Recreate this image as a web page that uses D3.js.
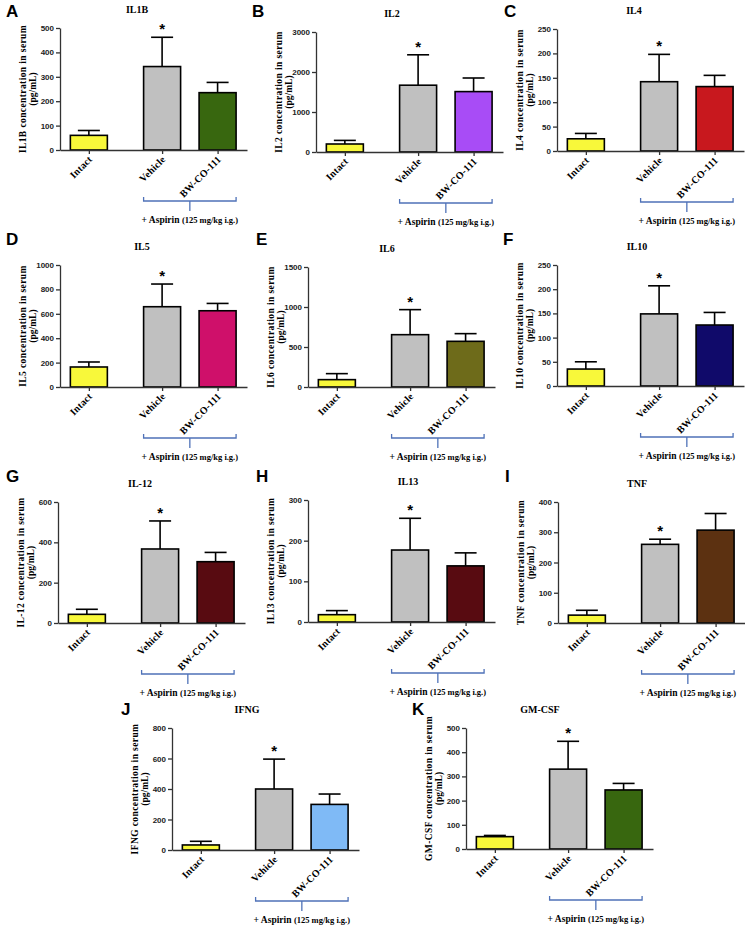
<!DOCTYPE html>
<html>
<head>
<meta charset="utf-8">
<script src="https://cdn.jsdelivr.net/npm/d3@7"></script>
<style>
  body { margin: 0; background: #fff; }
  svg { display: block; }
</style>
</head>
<body>
<svg id="chart"></svg>
<script>
// groups on the x axis of every panel
const groups = ["Intact", "Vehicle", "BW-CO-111"];
const groupPos = [0, 1.32, 2.32];

// one panel per cytokine
const panelLetters = ["A", "B", "C", "D", "E", "F", "G", "H", "I", "J", "K"];
const cytokines = ["IL1B", "IL2", "IL4", "IL5", "IL6", "IL10", "IL-12", "IL13", "TNF", "IFNG", "GM-CSF"];

// mean concentrations (pg/mL): Intact, Vehicle, BW-CO-111
const meanValues = [
    [60, 342, 235],
    [200, 1670, 1510],
    [25, 142, 132],
    [164, 658, 625],
    [92, 654, 571],
    [35, 149, 126],
    [43, 367, 304],
    [18, 177, 138],
    [26, 260, 307],
    [33, 400, 299],
    [51, 330, 244]
];

// upper error (SEM) for each bar
const errorValues = [
    [20, 120, 42],
    [90, 760, 340],
    [11, 56, 23],
    [41, 186, 60],
    [75, 313, 96],
    [15, 58, 26],
    [25, 139, 46],
    [10, 78, 32],
    [16, 17, 55],
    [24, 196, 68],
    [5, 115, 27]
];

// y tick labels per panel
const yTickValues = [
    [0, 100, 200, 300, 400, 500],
    [0, 1000, 2000, 3000],
    [0, 50, 100, 150, 200, 250],
    [0, 200, 400, 600, 800, 1000],
    [0, 500, 1000, 1500],
    [0, 50, 100, 150, 200, 250],
    [0, 200, 400, 600],
    [0, 100, 200, 300],
    [0, 100, 200, 300, 400],
    [0, 200, 400, 600, 800],
    [0, 100, 200, 300, 400, 500]
];

// significance mark over the Vehicle bar
const starGroup = [1, 1, 1, 1, 1, 1, 1, 1, 1, 1, 1];

// fill of the BW-CO-111 bar in each panel
const intactColor = "#f8f83a";
const vehicleColor = "#c0c0c0";
const treatmentColors = ["#38670f", "#a84cf6", "#c8181e", "#cf106a", "#6e6b1a", "#100a6a",
                         "#580b11", "#580b11", "#5c3111", "#7fbaf6", "#38670f"];

const treatmentLabel = "+ Aspirin";
const doseLabel = "(125 mg/kg i.g.)";

// panel placement on the page
const layout = [
    {left: 60,  top: 28,  base: 150, titleDx: 77,  lx: 6,   ly: 17},
    {left: 316, top: 32,  base: 152, titleDx: 76,  lx: 252, ly: 17},
    {left: 557, top: 29,  base: 151, titleDx: 77,  lx: 504, ly: 17},
    {left: 60,  top: 265, base: 387, titleDx: 82,  lx: 6,   ly: 245},
    {left: 308, top: 267, base: 387, titleDx: 79,  lx: 256, ly: 245},
    {left: 557, top: 265, base: 386, titleDx: 80,  lx: 503, ly: 245},
    {left: 58,  top: 502, base: 623, titleDx: 82,  lx: 6,   ly: 482},
    {left: 308, top: 500, base: 622, titleDx: 100, lx: 256, ly: 482},
    {left: 558, top: 502, base: 623, titleDx: 79,  lx: 505, ly: 482},
    {left: 172, top: 728, base: 850, titleDx: 75,  lx: 121, ly: 715},
    {left: 466, top: 728, base: 849, titleDx: 74,  lx: 412, ly: 715}
];

const width = 745, height = 930;
const plotWidth = 187;
const barWidth = 37;
const capHalf = 11;
const axisColor = "#333";
const braceColor = "#4f72b8";
const serif = "'Liberation Serif', 'Times New Roman', serif";
const sans = "'Liberation Sans', Arial, sans-serif";

const svg = d3.select("#chart")
    .attr("width", width)
    .attr("height", height);

svg.append("rect")
    .attr("width", width)
    .attr("height", height)
    .attr("fill", "#fff");

cytokines.forEach((name, i) => {
    const L = layout[i];
    const ticks = yTickValues[i];

    const x = d3.scaleLinear()
        .domain([-0.52, 2.85])
        .range([L.left, L.left + plotWidth]);

    const y = d3.scaleLinear()
        .domain([0, ticks[ticks.length - 1]])
        .range([L.base, L.top]);

    const g = svg.append("g").attr("class", "panel");

    // panel letter and title
    g.append("text")
        .attr("x", L.lx)
        .attr("y", L.ly)
        .attr("font-family", sans)
        .attr("font-weight", "bold")
        .attr("font-size", 17)
        .text(panelLetters[i]);

    g.append("text")
        .attr("x", L.left + L.titleDx)
        .attr("y", L.top - 15)
        .attr("text-anchor", "middle")
        .attr("font-family", serif)
        .attr("font-weight", "bold")
        .attr("font-size", 10)
        .text(name);

    // y axis title, two lines
    const midY = (L.top + L.base) / 2;
    g.append("text")
        .attr("transform", `translate(${L.left - 34},${midY}) rotate(-90)`)
        .attr("text-anchor", "middle")
        .attr("font-family", serif)
        .attr("font-weight", "bold")
        .attr("font-size", 9.5)
        .attr("letter-spacing", 0.4)
        .text(`${name} concentration in serum`);
    g.append("text")
        .attr("transform", `translate(${L.left - 24},${midY}) rotate(-90)`)
        .attr("text-anchor", "middle")
        .attr("font-family", serif)
        .attr("font-weight", "bold")
        .attr("font-size", 9.5)
        .text("(pg/mL)");

    // bars
    const rows = groups.map((grp, j) => ({
        grp,
        pos: groupPos[j],
        mean: meanValues[i][j],
        err: errorValues[i][j],
        color: j === 0 ? intactColor : (j === 1 ? vehicleColor : treatmentColors[i])
    }));

    // error bars (upper only), drawn under the bars
    rows.forEach(d => {
        g.append("line")
            .attr("x1", x(d.pos)).attr("x2", x(d.pos))
            .attr("y1", y(d.mean)).attr("y2", y(d.mean + d.err))
            .attr("stroke", "#000").attr("stroke-width", 1.6);
        g.append("line")
            .attr("x1", x(d.pos) - capHalf).attr("x2", x(d.pos) + capHalf)
            .attr("y1", y(d.mean + d.err)).attr("y2", y(d.mean + d.err))
            .attr("stroke", "#000").attr("stroke-width", 1.6);
    });

    g.selectAll("rect.bar")
        .data(rows)
        .join("rect")
        .attr("class", "bar")
        .attr("x", d => x(d.pos) - barWidth / 2)
        .attr("y", d => y(d.mean))
        .attr("width", barWidth)
        .attr("height", d => y(0) - y(d.mean))
        .attr("fill", d => d.color)
        .attr("stroke", "#000")
        .attr("stroke-width", 1.6);

    // significance star
    const s = rows[starGroup[i]];
    g.append("text")
        .attr("x", x(s.pos))
        .attr("y", y(s.mean + s.err) - 3)
        .attr("text-anchor", "middle")
        .attr("font-family", sans)
        .attr("font-weight", "bold")
        .attr("font-size", 15)
        .text("*");

    // y axis
    const yAxis = g.append("g")
        .attr("transform", `translate(${L.left},0)`)
        .call(d3.axisLeft(y).tickValues(ticks).tickFormat(d3.format("d"))
            .tickSize(4).tickPadding(2).tickSizeOuter(0));
    yAxis.select(".domain").attr("stroke", axisColor).attr("stroke-width", 1.3);
    yAxis.selectAll(".tick line").attr("stroke", axisColor).attr("stroke-width", 1.3);
    yAxis.selectAll(".tick text")
        .attr("font-family", sans)
        .attr("font-weight", "bold")
        .attr("font-size", 8)
        .attr("fill", "#222");

    // x axis baseline with ticks at the bars
    const xAxis = g.append("g")
        .attr("transform", `translate(0,${L.base})`)
        .call(d3.axisBottom(x).tickValues(groupPos).tickSize(4).tickSizeOuter(0).tickFormat(""));
    xAxis.select(".domain").attr("stroke", axisColor).attr("stroke-width", 1.3);
    xAxis.selectAll(".tick line").attr("stroke", axisColor).attr("stroke-width", 1.3);

    // rotated group labels
    rows.forEach(d => {
        g.append("text")
            .attr("transform", `translate(${x(d.pos) + 4},${L.base + 10}) rotate(-45)`)
            .attr("text-anchor", "end")
            .attr("font-family", serif)
            .attr("font-weight", "bold")
            .attr("font-size", 10)
            .attr("letter-spacing", 0.2)
            .text(d.grp);
    });

    // bracket under Vehicle and BW-CO-111
    const bx0 = x(groupPos[1]) - barWidth / 2;
    const bx1 = x(groupPos[2]) + barWidth / 2;
    const by = L.base + 51;
    const bmid = (bx0 + bx1) / 2;
    g.append("path")
        .attr("d", `M${bx0},${by - 4}V${by}H${bx1}V${by - 4}M${bmid},${by}V${by + 10}`)
        .attr("fill", "none")
        .attr("stroke", braceColor)
        .attr("stroke-width", 1.3);

    const t = g.append("text")
        .attr("x", bmid)
        .attr("y", by + 22)
        .attr("text-anchor", "middle")
        .attr("font-family", serif)
        .attr("font-weight", "bold");
    t.append("tspan").attr("font-size", 9.5).text(treatmentLabel + " ");
    t.append("tspan").attr("font-size", 8.5).text(doseLabel);
});
</script>
</body>
</html>
